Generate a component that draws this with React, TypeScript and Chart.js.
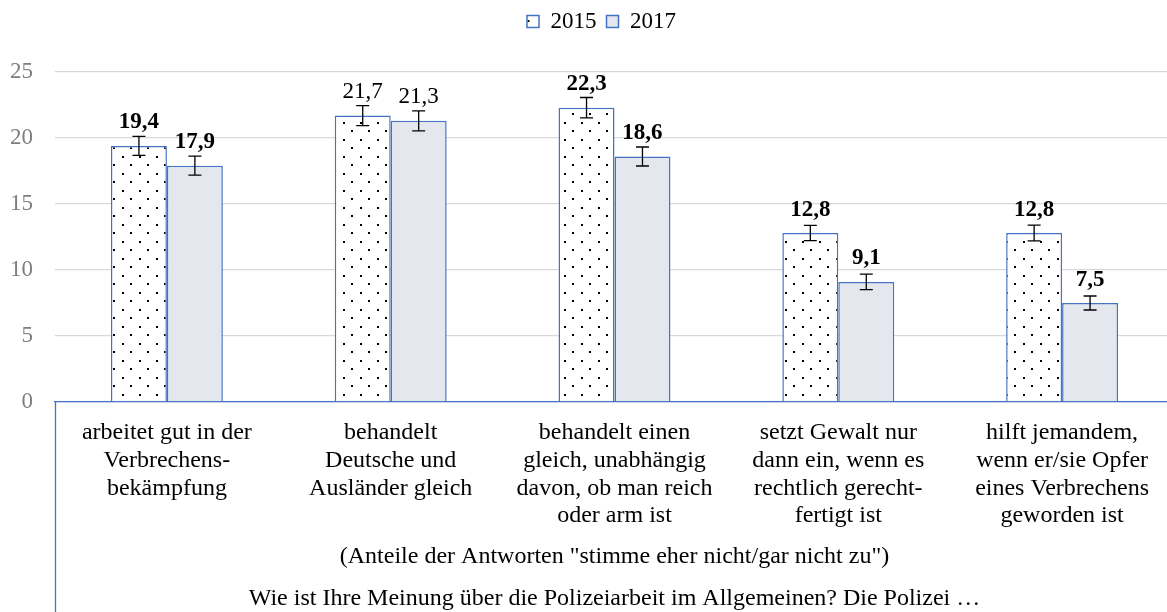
import React, { useEffect, useRef } from 'react';
import { Chart, registerables } from 'chart.js';

Chart.register(...registerables);

const FONT = "'Liberation Serif', 'Times New Roman', serif";

const categories: string[][] = [
  ['arbeitet gut in der', 'Verbrechens-', 'bekämpfung'],
  ['behandelt', 'Deutsche und', 'Ausländer gleich'],
  ['behandelt einen', 'gleich, unabhängig', 'davon, ob man reich', 'oder arm ist'],
  ['setzt Gewalt nur', 'dann ein, wenn es', 'rechtlich gerecht-', 'fertigt ist'],
  ['hilft jemandem,', 'wenn er/sie Opfer', 'eines Verbrechens', 'geworden ist'],
];
const seriesNames = ['2015', '2017'];
const values2015 = [19.4, 21.7, 22.3, 12.8, 12.8];
const values2017 = [17.9, 21.3, 18.6, 9.1, 7.5];
const errors2015 = [0.72, 0.76, 0.77, 0.58, 0.6];
const errors2017 = [0.72, 0.76, 0.72, 0.58, 0.53];
const boldLabels = [true, false, true, true, true];
const yTicks = [0, 5, 10, 15, 20, 25];
const subtitleText = '(Anteile der Antworten "stimme eher nicht/gar nicht zu")';
const questionText = 'Wie ist Ihre Meinung über die Polizeiarbeit im Allgemeinen? Die Polizei …';

const BLUE = '#4472c4';

function makeDots(): CanvasPattern | string {
  const c = document.createElement('canvas');
  c.width = 17;
  c.height = 17;
  const g = c.getContext('2d');
  if (!g) return '#fff';
  g.fillStyle = '#fff';
  g.fillRect(0, 0, 17, 17);
  g.fillStyle = '#000';
  g.fillRect(3, 3, 2, 2);
  g.fillRect(11, 11, 2, 2);
  return g.createPattern(c, 'repeat') || '#fff';
}

const fmt = (v: number) => v.toFixed(1).replace('.', ',');

export default function App() {
  const ref = useRef<HTMLCanvasElement>(null);

  useEffect(() => {
    if (!ref.current) return;
    document.body.style.overflow = 'hidden';
    const errs = [errors2015, errors2017];

    const overlay = {
      id: 'overlay',
      beforeInit(chart: any) {
        const legend = chart.legend;
        if (legend) {
          const origFit = legend.fit.bind(legend);
          legend.fit = function () {
            origFit();
            this.height = 72;
          };
          const origDraw = legend.draw.bind(legend);
          legend.draw = function () {
            chart.ctx.save();
            chart.ctx.translate(14.5, 0);
            origDraw();
            chart.ctx.restore();
          };
        }
      },
      afterDatasetsDraw(chart: any) {
        const ctx = chart.ctx;
        const y = chart.scales.y;
        [0, 1].forEach((di) => {
          const meta = chart.getDatasetMeta(di);
          const vals = chart.data.datasets[di].data as number[];
          meta.data.forEach((bar: any, i: number) => {
            const v = vals[i];
            const e = errs[di][i];
            const top = y.getPixelForValue(v + e);
            const bot = y.getPixelForValue(v - e);
            ctx.save();
            ctx.strokeStyle = '#000';
            ctx.lineWidth = 1.3;
            ctx.beginPath();
            ctx.moveTo(bar.x, top);
            ctx.lineTo(bar.x, bot);
            ctx.moveTo(bar.x - 6.5, top);
            ctx.lineTo(bar.x + 6.5, top);
            ctx.moveTo(bar.x - 6.5, bot);
            ctx.lineTo(bar.x + 6.5, bot);
            ctx.stroke();
            ctx.font = `${boldLabels[i] ? 'bold ' : ''}23px ${FONT}`;
            ctx.textAlign = 'center';
            ctx.textBaseline = 'alphabetic';
            ctx.fillStyle = '#000';
            ctx.fillText(fmt(v), bar.x, bar.y - 17.5);
            ctx.restore();
          });
        });
      },
      afterDraw(chart: any) {
        const ctx = chart.ctx;
        const area = chart.chartArea;
        const cx = (area.left + area.right) / 2;
        ctx.save();
        ctx.fillStyle = '#000';
        ctx.font = `24px ${FONT}`;
        ctx.textAlign = 'center';
        ctx.textBaseline = 'alphabetic';
        ctx.fillText(subtitleText, cx, 562.5);
        ctx.fillText(questionText, cx, 604.5);
        ctx.strokeStyle = BLUE;
        ctx.lineWidth = 1.3;
        ctx.beginPath();
        ctx.moveTo(area.left + 0.5, area.bottom);
        ctx.lineTo(area.left + 0.5, chart.height);
        ctx.stroke();
        ctx.restore();
      },
    };

    const dots = makeDots();

    const chart = new Chart(ref.current, {
      type: 'bar',
      data: {
        labels: categories,
        datasets: [
          {
            label: seriesNames[0],
            data: values2015,
            backgroundColor: dots as any,
            borderColor: BLUE,
            borderWidth: 1.5,
            barPercentage: 1,
            categoryPercentage: 0.5,
          },
          {
            label: seriesNames[1],
            data: values2017,
            backgroundColor: '#e4e7ed',
            borderColor: BLUE,
            borderWidth: 1.5,
            barPercentage: 1,
            categoryPercentage: 0.5,
          },
        ],
      },
      options: {
        responsive: false,
        animation: false,
        layout: { padding: { left: 0, right: 26, top: 0, bottom: 0 } },
        plugins: {
          legend: {
            position: 'top',
            labels: {
              boxWidth: 12,
              boxHeight: 12,
              padding: 10,
              color: '#000',
              font: { family: FONT, size: 23 },
            },
          },
          tooltip: { enabled: false },
        },
        scales: {
          x: {
            grid: { display: false },
            border: { color: BLUE, width: 1.3 },
            ticks: {
              color: '#000',
              font: { family: FONT, size: 24, lineHeight: 1.155 },
              padding: 9,
              maxRotation: 0,
              autoSkip: false,
            },
            afterFit(scale: any) {
              scale.height = 210;
            },
          },
          y: {
            min: 0,
            max: 25,
            afterBuildTicks(scale: any) {
              scale.ticks = yTicks.map((v) => ({ value: v }));
            },
            grid: { color: '#d9d9d9', lineWidth: 1.3, drawTicks: false },
            border: { display: false },
            ticks: {
              color: '#7f7f7f',
              font: { family: FONT, size: 23 },
              padding: 22,
            },
            afterFit(scale: any) {
              scale.width = 55;
            },
          },
        },
      },
      plugins: [overlay],
    });

    return () => chart.destroy();
  }, []);

  return (
    <div style={{ position: 'fixed', left: 0, top: 0, width: 1200, height: 612 }}>
      <canvas ref={ref} width={1200} height={612} style={{ display: 'block' }} />
    </div>
  );
}
